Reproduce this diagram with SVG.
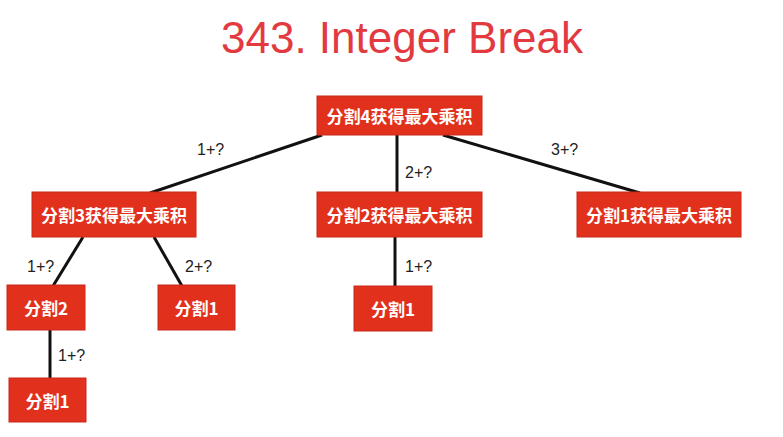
<svg xmlns="http://www.w3.org/2000/svg" width="783" height="437" viewBox="0 0 783 437">
<style>
.box{fill:#e1311d;stroke:#c8281a;stroke-width:1}
.bt{fill:#fff;font-family:"Noto Sans CJK SC","Noto Sans",sans-serif;font-weight:bold;font-size:17px;text-anchor:middle;dominant-baseline:central}
.lbl{fill:#222;font-family:"Liberation Sans",Arial,sans-serif;font-size:16px}
.ln{stroke:#111;stroke-width:3;fill:none}
</style>
<rect width="783" height="437" fill="#fff"/>
<text x="402" y="53" font-family="Liberation Sans,Arial,sans-serif" font-size="44" fill="#e23a40" text-anchor="middle">343. Integer Break</text>
<g id="connectors">
<line class="ln" x1="322" y1="135" x2="150" y2="193"/>
<line class="ln" x1="397" y1="135" x2="397" y2="193"/>
<line class="ln" x1="443" y1="135" x2="640" y2="193"/>
<line class="ln" x1="83" y1="237" x2="53" y2="286"/>
<line class="ln" x1="154" y1="237" x2="182" y2="286"/>
<line class="ln" x1="395" y1="237" x2="395" y2="286"/>
<line class="ln" x1="50" y1="330" x2="50" y2="378"/>
<text class="lbl" x="197" y="155">1+?</text>
<text class="lbl" x="405" y="178">2+?</text>
<text class="lbl" x="551" y="155">3+?</text>
<text class="lbl" x="27" y="272">1+?</text>
<text class="lbl" x="185" y="272">2+?</text>
<text class="lbl" x="405" y="272">1+?</text>
<text class="lbl" x="58" y="361">1+?</text>
</g>
<g id="n4"><rect class="box" x="317" y="96" width="165" height="39"/><text class="bt" x="399.5" y="115.5">分割4获得最大乘积</text></g>
<g id="n3"><rect class="box" x="32" y="192" width="164" height="45"/><text class="bt" x="114" y="214.5">分割3获得最大乘积</text></g>
<g id="n2"><rect class="box" x="317" y="192" width="165" height="45"/><text class="bt" x="399.5" y="214.5">分割2获得最大乘积</text></g>
<g id="n1"><rect class="box" x="577" y="192" width="164" height="45"/><text class="bt" x="659" y="214.5">分割1获得最大乘积</text></g>
<g id="s2"><rect class="box" x="7" y="285" width="78" height="45"/><text class="bt" x="46" y="307.5">分割2</text></g>
<g id="s1a"><rect class="box" x="158" y="285" width="77" height="45"/><text class="bt" x="196.5" y="307.5">分割1</text></g>
<g id="s1b"><rect class="box" x="354" y="286" width="78" height="45"/><text class="bt" x="393" y="308.5">分割1</text></g>
<g id="s1c"><rect class="box" x="9" y="378" width="77" height="44"/><text class="bt" x="47.5" y="400">分割1</text></g>
</svg>
